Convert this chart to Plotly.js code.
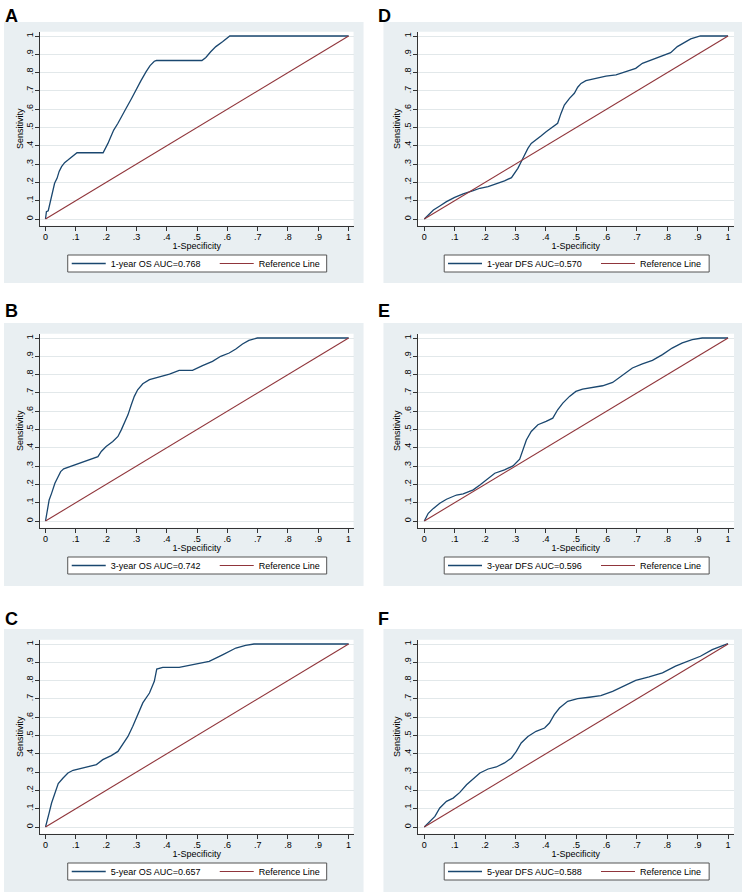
<!DOCTYPE html>
<html>
<head>
<meta charset="utf-8">
<script src="https://cdn.plot.ly/plotly-3.0.1.min.js"></script>
<style>html,body{margin:0;padding:0;background:#fff;}#chart{width:749px;height:896px;}</style>
</head>
<body>
<div id="chart"></div>
<script>
// ---------- data ----------
const tickVals = [0, 0.1, 0.2, 0.3, 0.4, 0.5, 0.6, 0.7, 0.8, 0.9, 1];
const tickText = ["0", ".1", ".2", ".3", ".4", ".5", ".6", ".7", ".8", ".9", "1"];
const panelLetters = ["A", "B", "C", "D", "E", "F"];
const curveNames = ["1-year OS AUC=0.768", "3-year OS AUC=0.742", "5-year OS AUC=0.657",
                    "1-year DFS AUC=0.570", "3-year DFS AUC=0.596", "5-year DFS AUC=0.588"];
const refName = "Reference Line";
const refX = [0, 1];
const refY = [0, 1];

const aX = [0, 0.003, 0.009, 0.014, 0.02, 0.025, 0.03, 0.038, 0.045, 0.053, 0.063, 0.074, 0.085, 0.096, 0.104, 0.19, 0.198, 0.206, 0.214, 0.225, 0.239, 0.25, 0.266, 0.283, 0.299, 0.315, 0.332, 0.345, 0.359, 0.366, 0.516, 0.529, 0.545, 0.562, 0.584, 0.6, 0.608, 1];
const aY = [0, 0.04, 0.045, 0.082, 0.11, 0.155, 0.195, 0.222, 0.26, 0.286, 0.308, 0.322, 0.337, 0.35, 0.362, 0.362, 0.386, 0.413, 0.444, 0.486, 0.523, 0.559, 0.605, 0.656, 0.709, 0.756, 0.805, 0.838, 0.862, 0.866, 0.866, 0.883, 0.914, 0.942, 0.969, 0.991, 1, 1];

const bX = [0, 0.005, 0.012, 0.02, 0.031, 0.042, 0.05, 0.06, 0.08, 0.113, 0.146, 0.173, 0.184, 0.2, 0.222, 0.239, 0.25, 0.261, 0.272, 0.283, 0.293, 0.304, 0.321, 0.343, 0.376, 0.409, 0.441, 0.485, 0.518, 0.551, 0.578, 0.606, 0.628, 0.65, 0.671, 0.699, 1];
const bY = [0, 0.06, 0.115, 0.151, 0.206, 0.243, 0.27, 0.285, 0.297, 0.316, 0.334, 0.352, 0.38, 0.407, 0.434, 0.462, 0.498, 0.535, 0.58, 0.635, 0.681, 0.717, 0.75, 0.772, 0.786, 0.803, 0.823, 0.823, 0.849, 0.872, 0.9, 0.918, 0.94, 0.967, 0.987, 1, 1];

const cX = [0, 0.005, 0.012, 0.02, 0.031, 0.042, 0.058, 0.074, 0.091, 0.124, 0.168, 0.189, 0.217, 0.239, 0.255, 0.272, 0.288, 0.304, 0.321, 0.343, 0.359, 0.367, 0.387, 0.441, 0.485, 0.54, 0.584, 0.628, 0.66, 0.688, 1];
const cY = [0, 0.04, 0.077, 0.131, 0.186, 0.237, 0.268, 0.295, 0.31, 0.322, 0.341, 0.368, 0.39, 0.413, 0.45, 0.495, 0.55, 0.614, 0.678, 0.732, 0.796, 0.863, 0.872, 0.872, 0.887, 0.905, 0.941, 0.978, 0.993, 1, 1];

const dX = [0, 0.013, 0.03, 0.051, 0.073, 0.1, 0.128, 0.161, 0.183, 0.21, 0.237, 0.264, 0.287, 0.297, 0.308, 0.319, 0.33, 0.341, 0.352, 0.368, 0.384, 0.401, 0.423, 0.439, 0.45, 0.461, 0.478, 0.494, 0.505, 0.516, 0.532, 0.565, 0.598, 0.631, 0.663, 0.696, 0.718, 0.751, 0.784, 0.811, 0.833, 0.855, 0.877, 0.909, 1];
const dY = [0, 0.022, 0.049, 0.071, 0.095, 0.118, 0.137, 0.155, 0.168, 0.177, 0.191, 0.208, 0.226, 0.25, 0.277, 0.313, 0.35, 0.386, 0.413, 0.432, 0.454, 0.477, 0.501, 0.523, 0.577, 0.623, 0.659, 0.687, 0.72, 0.741, 0.756, 0.769, 0.781, 0.787, 0.805, 0.823, 0.851, 0.872, 0.891, 0.909, 0.942, 0.965, 0.984, 1, 1];

const eX = [0, 0.013, 0.03, 0.051, 0.073, 0.106, 0.128, 0.161, 0.183, 0.21, 0.232, 0.264, 0.292, 0.314, 0.325, 0.336, 0.352, 0.374, 0.401, 0.423, 0.439, 0.456, 0.478, 0.499, 0.521, 0.554, 0.587, 0.62, 0.652, 0.685, 0.718, 0.751, 0.784, 0.816, 0.849, 0.882, 0.915, 1];
const eY = [0, 0.042, 0.069, 0.097, 0.119, 0.142, 0.148, 0.17, 0.197, 0.234, 0.261, 0.279, 0.301, 0.338, 0.389, 0.443, 0.489, 0.526, 0.544, 0.562, 0.608, 0.644, 0.681, 0.708, 0.721, 0.73, 0.739, 0.757, 0.794, 0.836, 0.859, 0.878, 0.909, 0.945, 0.973, 0.991, 1, 1];

const fX = [0, 0.019, 0.035, 0.051, 0.073, 0.095, 0.117, 0.139, 0.161, 0.183, 0.21, 0.237, 0.264, 0.287, 0.303, 0.319, 0.341, 0.368, 0.396, 0.412, 0.428, 0.445, 0.472, 0.505, 0.543, 0.581, 0.62, 0.658, 0.696, 0.74, 0.784, 0.827, 0.871, 0.909, 0.948, 0.98, 0.997, 1];
const fY = [0, 0.031, 0.058, 0.104, 0.14, 0.158, 0.189, 0.231, 0.262, 0.295, 0.317, 0.328, 0.35, 0.377, 0.413, 0.459, 0.495, 0.523, 0.541, 0.568, 0.614, 0.65, 0.687, 0.701, 0.709, 0.718, 0.741, 0.769, 0.801, 0.82, 0.842, 0.879, 0.906, 0.933, 0.969, 0.991, 1, 1];

// ---------- layout helpers ----------
const W = 749, H = 896;
const FONT = "Liberation Sans, Arial, Helvetica, sans-serif";
const ROC_COLOR = "#1a476f", REF_COLOR = "#90353b";
const px = v => v / W;
const py = v => 1 - v / H;

// column geometry: axis domain (px), data range, grey frame, legend box
const cols = [
  {dom: [40, 355], rng: [-0.0187, 1.0164], frame: [4, 365], letterX: 3, legBox: [68, 328], legX: 67, entry: 99},
  {dom: [419.3, 737], rng: [-0.022, 1.0197], frame: [385, 745], letterX: 378, legBox: [446, 712], legX: 445, entry: 104}
];
// row geometry
const rows = [
  {dom: [31.7, 225.7], frame: [22, 283], letterY: 4},
  {dom: [333.7, 527.7], frame: [323, 586], letterY: 299},
  {dom: [639.7, 833.7], frame: [629, 892], letterY: 607}
];
const yRange = [-0.0366, 1.0235];

const series = [[aX, aY], [bX, bY], [cX, cY], [dX, dY], [eX, eY], [fX, fY]];
const traces = [];
const layout = {
  width: W, height: H,
  margin: {l: 0, r: 0, t: 0, b: 0},
  paper_bgcolor: "#ffffff",
  plot_bgcolor: "#ffffff",
  font: {family: FONT, size: 9, color: "#000"},
  showlegend: true,
  shapes: [], annotations: []
};

for (let i = 0; i < 6; i++) {
  const col = cols[Math.floor(i / 3)];
  const row = rows[i % 3];
  const n = i + 1;
  const xa = n === 1 ? "x" : "x" + n;
  const ya = n === 1 ? "y" : "y" + n;
  const lg = n === 1 ? "legend" : "legend" + n;

  traces.push({x: series[i][0], y: series[i][1], xaxis: xa, yaxis: ya, legend: lg,
    type: "scatter", mode: "lines", name: curveNames[i],
    line: {color: ROC_COLOR, width: 1.3}, hoverinfo: "skip"});
  traces.push({x: refX, y: refY, xaxis: xa, yaxis: ya, legend: lg,
    type: "scatter", mode: "lines", name: refName,
    line: {color: REF_COLOR, width: 1.1}, hoverinfo: "skip"});

  const xKey = n === 1 ? "xaxis" : "xaxis" + n;
  const yKey = n === 1 ? "yaxis" : "yaxis" + n;
  layout[xKey] = {
    domain: [px(col.dom[0]), px(col.dom[1])], range: col.rng, anchor: ya,
    tickmode: "array", tickvals: tickVals, ticktext: tickText,
    ticks: "outside", ticklen: 4, tickwidth: 1, tickcolor: "#333",
    ticklabelstandoff: -2,
    showline: true, linecolor: "#333", linewidth: 1,
    showgrid: false, zeroline: false, fixedrange: true, automargin: false,
    tickfont: {family: FONT, size: 9, color: "#000"},
    title: {text: "1-Specificity", font: {family: FONT, size: 9, color: "#000"}, standoff: 0}
  };
  layout[yKey] = {
    domain: [py(row.dom[1]), py(row.dom[0])], range: yRange, anchor: xa,
    tickmode: "array", tickvals: tickVals, ticktext: tickText, tickangle: -90,
    ticks: "outside", ticklen: 4, tickwidth: 1, tickcolor: "#333",
    ticklabelstandoff: -2,
    showline: true, linecolor: "#333", linewidth: 1,
    showgrid: true, gridcolor: "#e2e8ea", gridwidth: 1,
    zeroline: false, fixedrange: true, automargin: false,
    tickfont: {family: FONT, size: 9, color: "#000"},
    title: {text: "Sensitivity", font: {family: FONT, size: 9, color: "#000"}, standoff: 0}
  };
  const boxTop = row.dom[1] + 29.3, boxBot = boxTop + 17;
  layout[lg] = {
    x: px(col.legX), xanchor: "left",
    y: py((boxTop + boxBot) / 2), yanchor: "middle",
    orientation: "h", bgcolor: "rgba(0,0,0,0)", borderwidth: 0,
    font: {family: FONT, size: 9, color: "#000"},
    entrywidth: col.entry, itemwidth: 34, tracegroupgap: 0
  };
  // grey graph-region frame
  layout.shapes.push({type: "rect", xref: "paper", yref: "paper", layer: "below",
    x0: px(col.frame[0]), x1: px(col.frame[1]), y0: py(row.frame[1]), y1: py(row.frame[0]),
    fillcolor: "#e9eff2", line: {width: 0}});
  // white plot region
  layout.shapes.push({type: "rect", xref: "paper", yref: "paper", layer: "below",
    x0: px(col.dom[0]), x1: px(col.dom[1]), y0: py(row.dom[1]), y1: py(row.dom[0]),
    fillcolor: "#ffffff", line: {width: 0}});
  // legend box
  layout.shapes.push({type: "rect", xref: "paper", yref: "paper", layer: "below",
    x0: px(col.legBox[0]), x1: px(col.legBox[1]), y0: py(boxBot), y1: py(boxTop),
    fillcolor: "#ffffff", line: {width: 1, color: "#555"}});
  // panel letter
  layout.annotations.push({text: "<b>" + panelLetters[i] + "</b>", xref: "paper", yref: "paper",
    x: px(col.letterX), y: py(row.letterY), xanchor: "left", yanchor: "top",
    showarrow: false, font: {family: FONT, size: 18, color: "#000"}});
}

Plotly.newPlot("chart", traces, layout, {displayModeBar: false, staticPlot: true});
</script>
</body>
</html>
